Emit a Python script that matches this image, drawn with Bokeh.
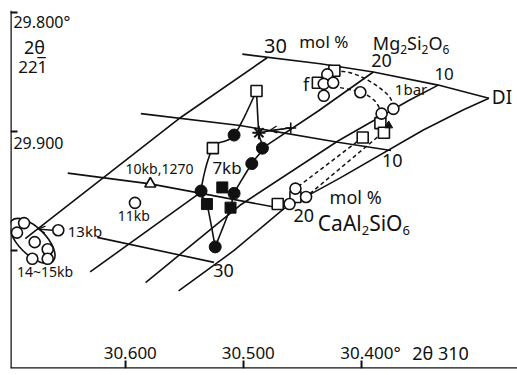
import math
from bokeh.plotting import figure
from bokeh.models import Range1d, Arrow, OpenHead, Span
from bokeh.core.properties import value
from bokeh.embed import file_html
from bokeh.resources import INLINE

FONT = "Noto Sans"
INK = "#111111"

# axis ticks (2theta 310 on x, 2theta 22-1 on y)
X_TICKS = [30.6, 30.5, 30.4]
Y_TICKS = [29.8, 29.9, 30.0]
X_LEFT, X_RIGHT = 30.6975, 30.2678
Y_TOP, Y_BOTTOM = 29.7983, 30.0992

# composition grid (2theta 310, 2theta 221)
top_x = [30.501, 30.435, 30.390, 30.335, 30.292]
top_y = [29.835, 29.843, 29.850, 29.861, 29.872]
cats_x = [30.292, 30.314, 30.348, 30.418, 30.466, 30.508, 30.555]
cats_y = [29.872, 29.882, 29.899, 29.939, 29.965, 30.000, 30.034]
en30_x = [30.480, 30.553, 30.685]
en30_y = [29.838, 29.888, 29.990]
en20a_x = [30.630, 30.536]
en20a_y = [30.018,29.951]
en20b_x = [30.484, 30.437, 30.390]
en20b_y = [29.914, 29.883, 29.850]
en10_x = [30.335, 30.360, 30.420, 30.503, 30.583]
en10_y = [29.861, 29.874, 29.908, 29.962, 30.027]
ct10_x = [30.587, 30.503, 30.420, 30.375]
ct10_y = [29.885, 29.895, 29.909, 29.916]
ct20_x = [30.649, 30.579, 30.466]
ct20_y = [29.935, 29.944, 29.965]
ct30_x = [30.624, 30.525]
ct30_y = [29.989, 30.010]

# 7 kb field
kb7_open_sq_x = [30.489, 30.526]
kb7_open_sq_y = [29.866, 29.914]
kb7_fc_x = [30.508, 30.484, 30.493, 30.508, 30.536, 30.524]
kb7_fc_y = [29.903, 29.914, 29.927, 29.952, 29.950, 29.997]
kb7_fs_x = [30.518, 30.531, 30.511]
kb7_fs_y = [29.947, 29.961, 29.964]
kb7_left_x = [30.489, 30.508, 30.526, 30.536, 30.531, 30.524]
kb7_left_y = [29.866, 29.903, 29.914, 29.950, 29.961, 29.997]
kb7_right_x = [30.489, 30.487, 30.484, 30.493, 30.508, 30.511, 30.524]
kb7_right_y = [29.866, 29.901, 29.914, 29.927, 29.952, 29.964, 29.997]
star_x, star_y = [30.487], [29.901]
plus_x, plus_y = [30.460], [29.897]

# high pressure runs
hp_circ_x = [30.686, 30.692, 30.677, 30.666, 30.679, 30.666, 30.657, 30.592]
hp_circ_y = [29.977, 29.985, 29.993, 29.999, 30.007, 30.007, 29.983, 29.960]
tri_x, tri_y = [30.579], [29.944]

# 1 bar runs
b1_sq_x = [30.437, 30.423, 30.384, 30.381, 30.399, 30.471, 30.456]
b1_sq_y = [29.859, 29.849, 29.893, 29.901, 29.905, 29.961, 29.955]
b1_ci_x = [30.429, 30.432, 30.424, 30.432, 30.401, 30.383, 30.373, 30.461, 30.456, 30.447]
b1_ci_y = [29.852, 29.860, 29.859, 29.870, 29.867, 29.885, 29.881, 29.961, 29.948, 29.955]
b1_tri_x, b1_tri_y = [30.377], [29.895]
d1_x = [30.423, 30.408, 30.391, 30.377, 30.373]
d1_y = [29.849, 29.851, 29.859, 29.870, 29.879]
d2_x = [30.424, 30.401, 30.389, 30.383]
d2_y = [29.862, 29.867, 29.874, 29.884]
d3_x = [30.399, 30.456]
d3_y = [29.905, 29.948]
d4_x = [30.382, 30.447]
d4_y = [29.901, 29.955]


def smooth(xs, ys, n=10):
    """Catmull-Rom curve through the given points."""
    px = [xs[0]] + list(xs) + [xs[-1]]
    py = [ys[0]] + list(ys) + [ys[-1]]
    ox, oy = [], []
    for i in range(1, len(px) - 2):
        for k in range(n):
            t = k / n
            t2, t3 = t * t, t * t * t
            def cr(a, b, c, d):
                return 0.5 * (2 * b + (-a + c) * t + (2 * a - 5 * b + 4 * c - d) * t2 + (-a + 3 * b - 3 * c + d) * t3)
            ox.append(cr(px[i - 1], px[i], px[i + 1], px[i + 2]))
            oy.append(cr(py[i - 1], py[i], py[i + 1], py[i + 2]))
    ox.append(xs[-1])
    oy.append(ys[-1])
    return ox, oy


p = figure(width=517, height=375, output_backend="svg", toolbar_location=None,
           x_range=Range1d(X_LEFT, X_RIGHT), y_range=Range1d(Y_BOTTOM, Y_TOP),
           min_border_left=10, min_border_right=0, min_border_top=10, min_border_bottom=7)
p.grid.visible = False
p.axis.visible = False
p.outline_line_color = None

# axes drawn at the frame edges, with ticks pointing inwards
p.add_layout(Span(location=X_LEFT, dimension="height", line_color=INK, line_width=2.5))
p.add_layout(Span(location=Y_BOTTOM, dimension="width", line_color=INK, line_width=2.5))
p.ray(x=X_TICKS, y=[Y_BOTTOM] * 3, length=8, angle=math.pi / 2, length_units="screen",
      line_color=INK, line_width=2)
p.ray(x=[X_LEFT] * 3, y=Y_TICKS, length=7, angle=0, length_units="screen",
      line_color=INK, line_width=2)

LW = 1.6
for xs, ys in [(top_x, top_y), (cats_x, cats_y), (en30_x, en30_y), (en20a_x, en20a_y),
               (en20b_x, en20b_y), (en10_x, en10_y), (ct10_x, ct10_y), (ct20_x, ct20_y),
               (ct30_x, ct30_y)]:
    p.line(xs, ys, line_color=INK, line_width=LW)

for xs, ys in [(kb7_left_x, kb7_left_y), (kb7_right_x, kb7_right_y)]:
    sx, sy = smooth(xs, ys)
    p.line(sx, sy, line_color=INK, line_width=LW)
for xs, ys in [(d1_x, d1_y), (d2_x, d2_y)]:
    sx, sy = smooth(xs, ys)
    p.line(sx, sy, line_color=INK, line_width=1.5, line_dash="4 3")
for xs, ys in [(d3_x, d3_y), (d4_x, d4_y)]:
    p.line(xs, ys, line_color=INK, line_width=1.5, line_dash="4 3")

p.line(star_x + plus_x, star_y + plus_y, line_color=INK, line_width=1.3)
p.add_layout(Arrow(end=OpenHead(size=7, line_width=1.3, line_color=INK),
                   x_start=plus_x[0], y_start=plus_y[0],
                   x_end=(plus_x[0] + star_x[0]) / 2 + 0.004, y_end=(plus_y[0] + star_y[0]) / 2,
                   line_color=INK, line_width=1.3))
p.add_layout(Arrow(end=OpenHead(size=7, line_width=1.3, line_color=INK),
                   x_start=hp_circ_x[6] + 0.005, y_start=hp_circ_y[6],
                   x_end=hp_circ_x[6] + 0.017, y_end=hp_circ_y[6] - 0.001,
                   line_color=INK, line_width=1.3))

# envelope of the 14-15 kb runs
p.ellipse(x=[30.679], y=[29.992], width=[58], height=[27], angle=[-0.78],
          width_units="screen", height_units="screen",
          fill_color=None, line_color=INK, line_width=LW)

WHITE = "white"
p.scatter(kb7_fc_x, kb7_fc_y, marker="circle", size=12, fill_color=INK, line_color=INK)
p.scatter(kb7_fs_x, kb7_fs_y, marker="square", size=11, fill_color=INK, line_color=INK)
p.scatter(kb7_open_sq_x, kb7_open_sq_y, marker="square", size=11, fill_color=WHITE, line_color=INK, line_width=LW)
p.scatter(star_x, star_y, marker="asterisk", size=13, line_color=INK, line_width=2)
p.scatter(plus_x, plus_y, marker="cross", size=11, line_color=INK, line_width=1.6)
p.scatter(hp_circ_x, hp_circ_y, marker="circle", size=11, fill_color=WHITE, line_color=INK, line_width=LW)
p.scatter(tri_x, tri_y, marker="triangle", size=11, fill_color=WHITE, line_color=INK, line_width=LW)
p.scatter(b1_sq_x, b1_sq_y, marker="square", size=11, fill_color=WHITE, line_color=INK, line_width=LW)
p.scatter(b1_ci_x, b1_ci_y, marker="circle", size=11, fill_color=WHITE, line_color=INK, line_width=LW)
p.scatter(b1_tri_x, b1_tri_y, marker="triangle", size=8, fill_color=INK, line_color=INK)

def label(x, y, t, size="17px", align="left", base="middle", dx=0, dy=0):
    p.text(x=[x], y=[y], text=[t], text_font=value(FONT), text_font_size=size,
           text_color=INK, text_align=align, text_baseline=base, x_offset=dx, y_offset=dy)

# approximate advance widths (em) of the glyphs used in the formulas
EM = {"M": 0.907, "g": 0.61, "S": 0.55, "i": 0.258, "O": 0.78, "C": 0.632,
      "a": 0.561, "A": 0.639, "l": 0.258, "2": 0.572, "6": 0.572}

def formula(x, y, parts, size, sub):
    widths = [sum(EM[c] for c in t) * (sub if s else size) for t, s in parts]
    off = -sum(widths) / 2
    for (t, s), w in zip(parts, widths):
        label(x, y, t, size=f"{sub if s else size}px", dx=off, dy=(size * 0.33 if s else 0))
        off += w

label(30.695, 29.808, "29.800°", size="16px")
label(30.686, 29.829, "2θ", size="18px")
label(30.691, 29.846, "221", size="17px")
label(30.691, 29.8437, "¯", size="17px", dx=19)
label(30.695, 29.910, "29.900", size="16px")
label(30.596, 30.086, "30.600", align="center")
label(30.496, 30.086, "30.500", align="center")
label(30.418, 30.086, "30.400°")
label(30.357, 30.086, "2θ 310", size="18px")
label(30.473, 29.828, "30", size="20px", align="center")
label(30.432, 29.824, "mol %", size="17px", align="center")
formula(30.358, 29.826, [("Mg", False), ("2", True), ("Si", False), ("2", True), ("O", False), ("6", True)], 18, 12)
label(30.383, 29.840, "20", size="18px", align="center")
label(30.330, 29.852, "10", size="17px", align="center")
label(30.358, 29.864, "1bar", size="15px", align="center")
label(30.281, 29.871, "DI", size="19px", align="center")
label(30.447, 29.860, "f", size="18px", align="center")
label(30.514, 29.930, "7kb", size="17px", align="center")
label(30.600, 29.931, "10kb,1270", size="14px")
label(30.593, 29.971, "11kb", size="14px", align="center")
label(30.649, 29.984, "13kb", size="15px")
label(30.692, 30.018, "14~15kb", size="14px")
label(30.374, 29.924, "10", size="18px", align="center")
label(30.405, 29.955, "mol %", size="18px", align="center")
label(30.449, 29.971, "20", size="18px", align="center")
formula(30.398, 29.977, [("CaAl", False), ("2", True), ("SiO", False), ("6", True)], 21, 13)
label(30.517, 30.017, "30", size="18px", align="center")

open("out.html", "w").write(file_html(p, INLINE))
